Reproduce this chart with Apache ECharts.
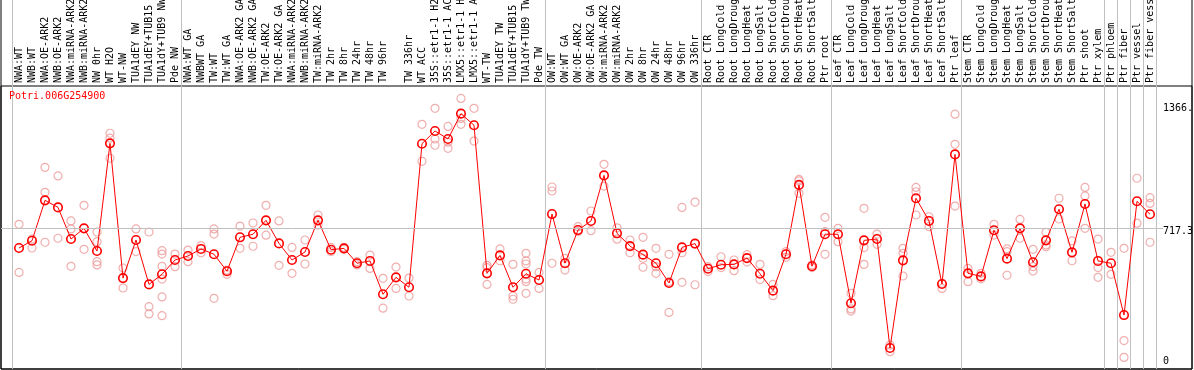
<!DOCTYPE html>
<html><head><meta charset="utf-8">
<script src="https://cdn.jsdelivr.net/npm/echarts@6/dist/echarts.min.js"></script>
<style>html,body{margin:0;padding:0;background:#fff}#c{width:1194px;height:370px}</style>
</head><body><div id="c"></div>
<script>
const geneId = 'Potri.006G254900';
const categories = [
 'NWA:WT','NWB:WT','NWA:OE-ARK2','NWB:OE-ARK2','NWA:miRNA-ARK2','NWB:miRNA-ARK2','NW 0hr','WT H2O','WT-NW','TUA1dEY NW','TUA1dEY+TUB15 NW','TUA1dY+TUB9 NW','Pde NW',
 'NWA:WT GA','NWBWT GA','TW:WT','TW:WT GA','NWA:OE-ARK2 GA','NWB:OE-ARK2 GA','TW:OE-ARK2','TW:OE-ARK2 GA','NWA:miRNA-ARK2 GA','NWB:miRNA-ARK2 GA','TW:miRNA-ARK2','TW 2hr','TW 8hr','TW 24hr','TW 48hr','TW 96hr','','TW 336hr','WT ACC','35S::etr1-1 H2O','35S::etr1-1 ACC','LMX5::etr1-1 H2O','LMX5::etr1-1 ACC','WT-TW','TUA1dEY TW','TUA1dEY+TUB15 TW','TUA1dY+TUB9 TW','Pde TW',
 'OW:WT','OW:WT GA','OW:OE-ARK2','OW:OE-ARK2 GA','OW:miRNA-ARK2','OW:miRNA-ARK2 GA','OW 2hr','OW 8hr','OW 24hr','OW 48hr','OW 96hr','OW 336hr',
 'Root CTR','Root LongCold','Root LongDrought','Root LongHeat','Root LongSalt','Root ShortCold','Root ShortDrought','Root ShortHeat','Root ShortSalt','Ptr root',
 'Leaf CTR','Leaf LongCold','Leaf LongDrought','Leaf LongHeat','Leaf LongSalt','Leaf ShortCold','Leaf ShortDrought','Leaf ShortHeat','Leaf ShortSalt','Ptr leaf',
 'Stem CTR','Stem LongCold','Stem LongDrought','Stem LongHeat','Stem LongSalt','Stem ShortCold','Stem ShortDrought','Stem ShortHeat','Stem ShortSalt','Ptr shoot','Ptr xylem',
 'Ptr phloem','Ptr fiber','Ptr vessel','Ptr fiber vessel'
];
const groupStarts = [0, 13, 41, 53, 63, 73, 84, 85, 86, 87];
const meanValues = [
 614,652,864,827,661,717,598,1163,456,656,423,476,551,
 572,609,581,492,670,686,759,638,551,593,759,605,612,534,546,371,460,408,1161,1228,1186,1319,1258,481,575,408,479,446,
 792,534,708,756,995,691,624,579,534,430,617,637,
 505,526,528,561,479,390,581,945,518,686,
 686,324,654,661,89,549,875,756,425,1105,
 481,465,707,558,717,539,654,817,591,845,546,
 534,262,859,791
];
const replicateValues = [
 [738,486],[661,614],[1037,906,644],[992,665],[756,714,518],[838,607],[698,647,542,525],[1216,1190,1085],[509,404],[714,595],[698,306,268],[600,582,518,451,357,259],[582,516],
 [603,542],[626,589],[714,687,350],[498,476],[729,612],[745,623],[838,681],[756,523],[617,481],[656,530],[787,735],[617,595],[617,608],[542,525],[577,507],[455,298],[514,402],[456,362],[1263,1069],[1347,1186,1153],[1252,1169,1137],[1399,1294,1263],[1347,1175],[523,511,423],[609,547],[528,362,345],[586,546,530,451,437,376],[486,402],
 [934,913,534],[560,498],[726,700],[808,705],[1053,939],[720,660],[656,589],[670,560,513],[612,516,481],[581,437,276],[827,589,434],[855,421],
 [516,490],[568,511],[551,495],[579,540],[528,448],[423,364],[595,565],[974,966,901],[525,511],[775,700,581],
 [717,647],[376,294,283],[822,616,528],[687,633],[105,70],[612,586,467],[932,909,787],[778,726],[429,402],[1316,1158,834],
 [507,437],[481,452],[738,682],[609,595,471],[764,665],[607,516,493],[696,630,621],[875,766],[651,547],[932,887,717],[661,511,460],
 [591,476],[612,128,40],[980,744],[878,848,644]
];
const yTickValues = [0, 717.3, 1366];
const yTickLabels = ['0', '717.3', '1366.'];
const yMin = -21, yMax = 1464;

const font = 'DejaVu Sans Mono';
const sepColor = '#c0c0c0';
const isGroupStart = (i) => groupStarts.indexOf(i) >= 0;
const replicatePoints = [];
replicateValues.forEach((arr, i) => arr.forEach(v => replicatePoints.push([i, v])));

const g = (o) => Object.assign({containLabel: false, outerBoundsMode: 'none'}, o);

const chart = echarts.init(document.getElementById('c'), null, {renderer: 'canvas'});
chart.setOption({
  animation: false,
  backgroundColor: '#fff',
  title: {text: geneId, left: 9, top: 91, padding: 0,
    textStyle: {fontFamily: font, fontSize: 10, fontWeight: 'normal', color: '#ff0000'}},
  grid: [
    g({left: 1, right: 2, top: 86, bottom: 1, show: true, borderColor: '#000', borderWidth: 1, backgroundColor: 'transparent'}),
    g({left: 1, right: 2, top: -5, bottom: 1, show: true, borderColor: '#000', borderWidth: 1, backgroundColor: 'transparent'}),
    g({left: 1, right: 31, top: 86, bottom: 1}),
    g({left: 12.5, right: 37.5, top: 86, bottom: 1}),
    g({left: 12.5, right: 37.5, top: 0, height: 86})
  ],
  xAxis: [
    {gridIndex: 0, type: 'value', show: false},
    {gridIndex: 1, type: 'value', show: false},
    {gridIndex: 2, type: 'value', show: false, min: 0, max: 1},
    {gridIndex: 3, type: 'category', data: categories, position: 'top', boundaryGap: true,
      axisLine: {show: false}, axisTick: {show: false},
      axisLabel: {interval: 0, rotate: 90, margin: 3, align: 'left', verticalAlign: 'middle',
        fontFamily: font, fontSize: 10, color: '#000', hideOverlap: false},
      splitLine: {show: true, interval: (i) => isGroupStart(i), lineStyle: {color: sepColor, width: 1}}},
    {gridIndex: 4, type: 'category', data: categories, boundaryGap: true,
      axisLine: {show: false}, axisTick: {show: false}, axisLabel: {show: false},
      splitLine: {show: true, interval: (i) => isGroupStart(i), lineStyle: {color: sepColor, width: 1}}}
  ],
  yAxis: [
    {gridIndex: 0, type: 'value', show: false},
    {gridIndex: 1, type: 'value', show: false},
    {gridIndex: 2, type: 'value', min: yMin, max: yMax, position: 'right',
      axisLine: {show: false}, axisTick: {show: false}, splitLine: {show: false},
      axisLabel: {customValues: yTickValues, margin: 0, align: 'left', fontFamily: font, fontSize: 10, color: '#000',
        formatter: (v) => {
          const k = yTickValues.findIndex(t => Math.abs(t - v) < 1e-6);
          if (k < 0) return '';
          return k === 0 ? '{up|' + yTickLabels[k] + '}' : '{dn|' + yTickLabels[k] + '}';
        },
        rich: {
          up: {fontFamily: font, fontSize: 10, color: '#000', padding: [0, 0, 7, 0]},
          dn: {fontFamily: font, fontSize: 10, color: '#000', padding: [7, 0, 0, 0]}
        }}},
    {gridIndex: 3, type: 'value', min: yMin, max: yMax, show: false},
    {gridIndex: 4, type: 'value', show: false}
  ],
  series: [
    {type: 'line', xAxisIndex: 2, yAxisIndex: 2, data: [], silent: true,
      markLine: {silent: true, symbol: 'none', label: {show: false}, animation: false,
        lineStyle: {color: sepColor, width: 1, type: 'solid'},
        data: [{yAxis: yTickValues[1]}]}},
    {type: 'scatter', xAxisIndex: 3, yAxisIndex: 3, data: replicatePoints, symbol: 'circle', symbolSize: 8,
      itemStyle: {color: 'rgba(0,0,0,0)', borderColor: '#ec9a9a', borderWidth: 1.2}, z: 2, silent: true},
    {type: 'line', xAxisIndex: 3, yAxisIndex: 3, data: meanValues, symbol: 'circle', symbolSize: 8.5, showAllSymbol: true,
      lineStyle: {color: '#ff0000', width: 1},
      itemStyle: {color: 'rgba(0,0,0,0)', borderColor: '#ff0000', borderWidth: 1.6}, z: 3, silent: true}
  ]
});
</script></body></html>
